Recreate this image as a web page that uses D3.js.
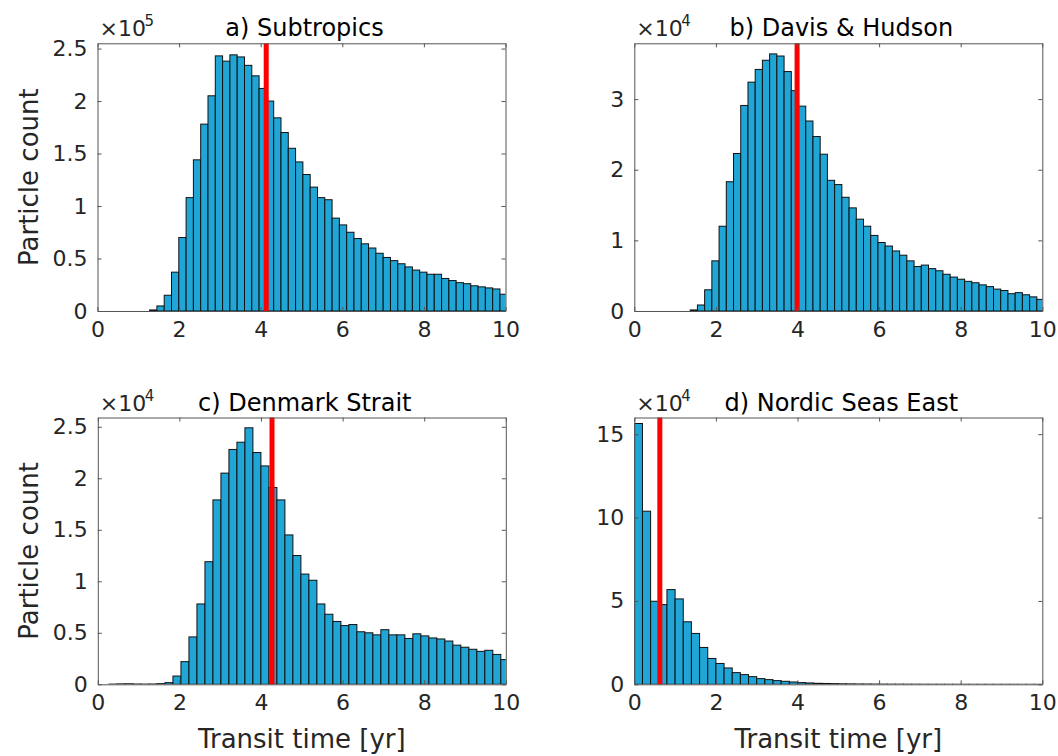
<!DOCTYPE html>
<html><head><meta charset="utf-8">
<script src="https://cdn.jsdelivr.net/npm/d3@7"></script>
<style>body{margin:0;background:#fff}svg{display:block}</style>
</head><body><svg id="chart" width="1058" height="756"></svg>
<script>
// ---- data ----
const xTicks = [0, 2, 4, 6, 8, 10];
const titles = ["a) Subtropics", "b) Davis & Hudson", "c) Denmark Strait", "d) Nordic Seas East"];
const exponents = [5, 4, 4, 4];
const yTicksA = [0, 0.5, 1, 1.5, 2, 2.5];
const yTicksB = [0, 1, 2, 3];
const yTicksC = [0, 0.5, 1, 1.5, 2, 2.5];
const yTicksD = [0, 5, 10, 15];
const yMaxes = [255000, 37900, 25900, 160000];
const meanTimes = [4.135, 3.99, 4.27, 0.626];

// bin definition (left edge of first listed bin, bin width) in years
const binStartA = 1.277, binWidthA = 0.1789;
const binStartB = 1.37,  binWidthB = 0.177;
const binStartC = 0.078, binWidthC = 0.196;
const binStartD = 0.0,   binWidthD = 0.2;

const countsA = [1000, 4800, 15000, 37000, 70000, 108000, 144000, 178000, 205000, 243000,
  238000, 244000, 242000, 234000, 224000, 212000, 200000, 184000, 170000, 155000,
  142000, 130000, 118000, 108000, 106000, 88500, 82000, 75000, 69000, 64000,
  60000, 55000, 51000, 48000, 45000, 42000, 39000, 37000, 35000, 35000,
  31000, 29000, 27000, 26000, 24000, 23000, 22000, 21000, 16000];
const countsB = [150, 850, 3000, 7100, 12000, 18300, 22300, 29100, 32400, 34200,
  35500, 36400, 36100, 33900, 31200, 29000, 26900, 24700, 22200, 18500,
  17900, 16100, 14600, 13000, 12000, 10700, 9700, 9200, 8500, 7900,
  7100, 6300, 6500, 6000, 5700, 5200, 4800, 4500, 4200, 4000,
  3700, 3450, 3100, 2900, 2450, 2600, 2300, 2000, 1650];
const countsC = [0, 20, 40, 50, 30, 20, 30, 60,
  160, 800, 2200, 4600, 7800, 11900, 17900, 20500, 22800, 23500,
  24900, 22500, 21200, 19100, 17900, 14500, 12500, 10700, 10100, 7800,
  6800, 6100, 5700, 5800, 5100, 5000, 4800, 5300, 4800, 4800,
  4450, 4900, 4700, 4500, 4400, 4200, 3800, 3600, 3400, 3200,
  3300, 2900, 2400];
const countsD = [156400, 103800, 49800, 47800, 56800, 51200, 37500, 30500, 22100, 15500,
  12500, 9800, 7000, 5800, 4600, 3400, 2800, 2200, 1800, 1400,
  1000, 800, 600, 500, 400, 300, 250, 200, 180, 150,
  120, 100, 90, 80, 70, 60, 50, 50, 40, 40,
  30, 30, 30, 20, 20, 20, 20, 10, 10, 10];

// ---- layout ----
const W = 408;
const panels = [
  {title: titles[0], exp: exponents[0], start: binStartA, width: binWidthA, counts: countsA, mean: meanTimes[0], yMax: yMaxes[0], yTicks: yTicksA, left: 97.5, top: 43.3, bottom: 311, xLabel: false, yLabel: true},
  {title: titles[1], exp: exponents[1], start: binStartB, width: binWidthB, counts: countsB, mean: meanTimes[1], yMax: yMaxes[1], yTicks: yTicksB, left: 634.3, top: 43.3, bottom: 311, xLabel: false, yLabel: false},
  {title: titles[2], exp: exponents[2], start: binStartC, width: binWidthC, counts: countsC, mean: meanTimes[2], yMax: yMaxes[2], yTicks: yTicksC, left: 97.8, top: 417.5, bottom: 684.3, xLabel: true, yLabel: true},
  {title: titles[3], exp: exponents[3], start: binStartD, width: binWidthD, counts: countsD, mean: meanTimes[3], yMax: yMaxes[3], yTicks: yTicksD, left: 634.3, top: 417.5, bottom: 684.3, xLabel: true, yLabel: false}
];

const svg = d3.select("#chart");
const FONT = "DejaVu Sans";
const TXT = "#262626";

panels.forEach((p, k) => {
  const scaleF = Math.pow(10, p.exp);
  const x = d3.scaleLinear().domain([0, 10]).range([p.left, p.left + W]);
  const y = d3.scaleLinear().domain([0, p.yMax / scaleF]).range([p.bottom, p.top]);
  const g = svg.append("g");

  const clipId = "clip" + k;
  svg.append("clipPath").attr("id", clipId).append("rect")
    .attr("x", p.left).attr("y", p.top).attr("width", W).attr("height", p.bottom - p.top);

  const bins = p.counts.map((c, i) => ({x0: p.start + i * p.width, x1: p.start + (i + 1) * p.width, v: c / scaleF}))
    .filter(d => d.v > 0);

  g.append("g").attr("clip-path", `url(#${clipId})`)
    .selectAll("rect").data(bins).join("rect")
    .attr("x", d => x(d.x0))
    .attr("width", d => x(d.x1) - x(d.x0))
    .attr("y", d => y(d.v))
    .attr("height", d => y(0) - y(d.v))
    .attr("fill", "#1fa6d6")
    .attr("stroke", "#111")
    .attr("stroke-width", 1);

  // mean line
  g.append("line")
    .attr("x1", x(p.mean)).attr("x2", x(p.mean))
    .attr("y1", p.top).attr("y2", p.bottom)
    .attr("stroke", "#ff0000").attr("stroke-width", 5);

  // axes
  const axStyle = sel => {
    sel.selectAll("path.domain").attr("stroke", "#555").attr("stroke-width", 1);
    sel.selectAll(".tick line").attr("stroke", "#555");
    sel.selectAll("text").attr("font-family", FONT).attr("font-size", 22).attr("fill", TXT);
  };
  g.append("g").attr("transform", `translate(0,${p.bottom})`)
    .call(d3.axisBottom(x).tickValues(xTicks).tickSizeInner(-4).tickSizeOuter(0).tickPadding(10).tickFormat(d3.format("d")))
    .call(axStyle);
  g.append("g").attr("transform", `translate(0,${p.top})`)
    .call(d3.axisTop(x).tickValues(xTicks).tickSizeInner(-4).tickSizeOuter(0).tickFormat(""))
    .call(axStyle);
  g.append("g").attr("transform", `translate(${p.left},0)`)
    .call(d3.axisLeft(y).tickValues(p.yTicks).tickSizeInner(-4).tickSizeOuter(0).tickPadding(10).tickFormat(d => String(d)))
    .call(axStyle);
  g.append("g").attr("transform", `translate(${p.left + W},0)`)
    .call(d3.axisRight(y).tickValues(p.yTicks).tickSizeInner(-4).tickSizeOuter(0).tickFormat(""))
    .call(axStyle);

  // exponent label
  g.append("text").attr("x", p.left + 2).attr("y", p.top - 7)
    .attr("font-family", FONT).attr("font-size", 22).attr("fill", TXT)
    .text("\u00d710");
  g.append("text").attr("x", p.left + 47).attr("y", p.top - 17)
    .attr("font-family", FONT).attr("font-size", 15).attr("fill", TXT)
    .text(String(p.exp));

  // title
  g.append("text").attr("x", p.left + W / 2 + 3).attr("y", p.top - 7)
    .attr("text-anchor", "middle")
    .attr("font-family", FONT).attr("font-size", 24).attr("fill", "#000")
    .text(p.title);

  if (p.yLabel) {
    const cy = (p.top + p.bottom) / 2;
    g.append("text").attr("transform", `translate(38,${cy}) rotate(-90)`)
      .attr("text-anchor", "middle")
      .attr("font-family", FONT).attr("font-size", 26).attr("fill", TXT)
      .text("Particle count");
  }
  if (p.xLabel) {
    g.append("text").attr("x", p.left + W / 2).attr("y", 748)
      .attr("text-anchor", "middle")
      .attr("font-family", FONT).attr("font-size", 26).attr("fill", TXT)
      .text("Transit time [yr]");
  }
});
</script>
</body></html>
